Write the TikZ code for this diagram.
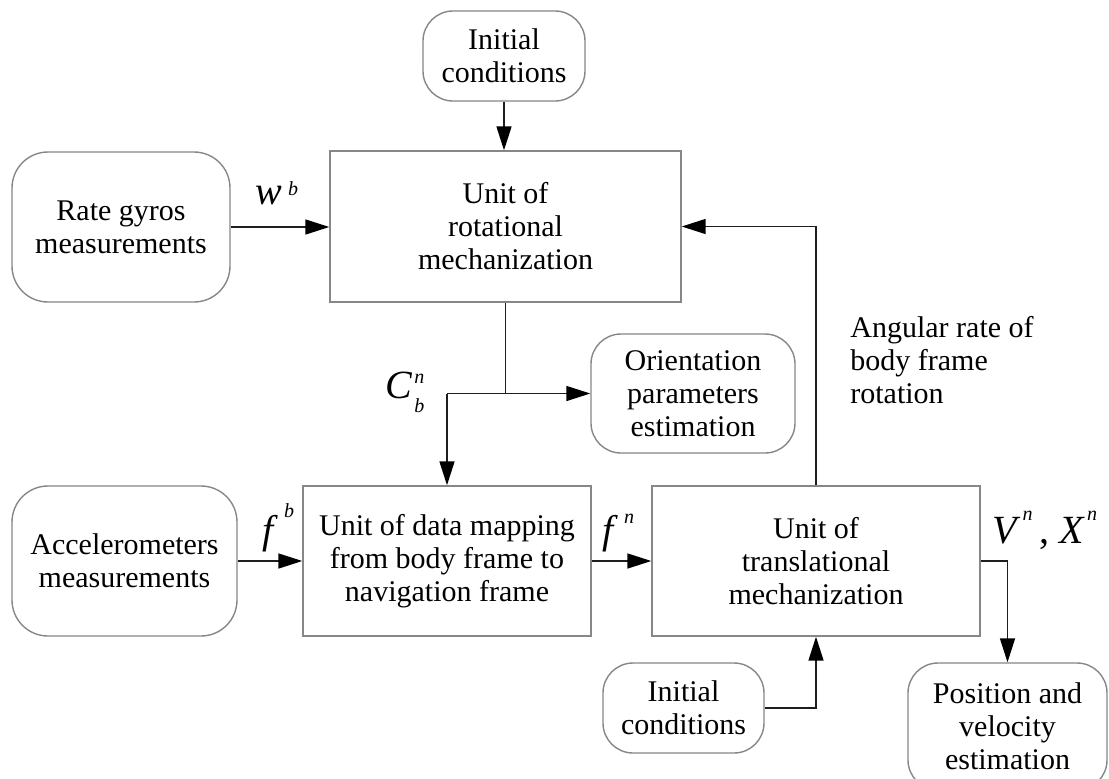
\documentclass[tikz,border=0pt]{standalone}
\usepackage{fontspec}
\setmainfont{Liberation Serif}
\usetikzlibrary{arrows.meta}
\definecolor{boxgray}{RGB}{135,135,135}
\definecolor{linegray}{RGB}{30,30,30}
\newcommand\supsc[2]{\raisebox{#1}{\fontsize{10}{10}\selectfont\textit{#2}}}
\begin{document}
\begin{tikzpicture}[x=0.5pt,y=-0.5pt,
  box/.style={draw=boxgray, line width=0.7pt, align=center, font=\fontsize{15}{16.5}\selectfont, inner sep=0pt},
  rbox/.style={box, rounded corners=15pt},
  conn/.style={draw=linegray, line width=0.75pt},
  arr/.style={conn, -{Triangle[length=12pt,width=7.5pt,color=black]}},
  lab/.style={font=\fontsize{20}{20}\selectfont, inner sep=0pt, anchor=base west},
  note/.style={font=\fontsize{15}{16.5}\selectfont, align=left, inner sep=0pt}
]
\useasboundingbox[fill=white] (0,0) rectangle (1109,778);

\node[rbox, minimum width=81pt, minimum height=45pt] (init1) at (504,56) {Initial\\conditions};
\node[rbox, rounded corners=18pt, minimum width=109pt, minimum height=75pt] (gyro) at (121,227) {Rate gyros\\measurements};
\node[box, minimum width=175.5pt, minimum height=75.5pt] (rot) at (505.5,226.5) {Unit of\\rotational\\mechanization};
\node[rbox, minimum width=102pt, minimum height=59.5pt] (orient) at (693,393.5) {Orientation\\parameters\\estimation};
\node[rbox, rounded corners=18pt, minimum width=112.5pt, minimum height=75pt] (accel) at (124.5,561) {Accelerometers\\measurements};
\node[box, minimum width=144pt, minimum height=75pt] (map) at (447,561) {Unit of data mapping\\from body frame to\\navigation frame};
\node[box, minimum width=164pt, minimum height=75pt] (trans) at (816,561) {Unit of\\translational\\mechanization};
\node[rbox, minimum width=80.5pt, minimum height=45pt] (init2) at (683.5,708) {Initial\\conditions};
\node[rbox, minimum width=99.5pt, minimum height=63.5pt] (pos) at (1007.5,726.5) {Position and\\velocity\\estimation};

\draw[arr] (init1.south) -- (init1.south |- rot.north);
\draw[arr] (gyro.east) -- (gyro.east -| rot.west);
\coordinate (jr) at (rot.south |- orient.west);
\coordinate (jl) at (map.north |- orient.west);
\draw[conn] (rot.south) -- (jr);
\draw[arr] (jl) -- (orient.west);
\draw[arr] (jl) -- (map.north);
\draw[arr] (accel.east) -- (map.west);
\draw[arr] (map.east) -- (trans.west);
\draw[arr] (trans.north) |- (rot.east);
\draw[arr] (init2.east) -| (trans.south);
\draw[arr] (trans.east) -| (pos.north);

\node[lab] (lw) at (255,204) {\textit{w}\hspace{3pt}\supsc{4.5pt}{b}};
\node[lab] (lfb) at (262,543) {\textit{f}\hspace{3pt}\supsc{13pt}{b}};
\node[lab] (lfn) at (602,543) {\textit{f}\hspace{3pt}\supsc{10pt}{n}};
\node[lab] (lc) at (385,398) {\textit{C}\hspace{1pt}\rlap{\supsc{7.5pt}{n}}\supsc{-7pt}{b}};
\node[lab] (lvx) at (992,543) {\textit{V}\hspace{1pt}\supsc{11.5pt}{n}\,, \textit{X}\hspace{1pt}\supsc{11.5pt}{n}};
\node[note, anchor=north west] (ang) at (850,316) {Angular rate of\\body frame\\rotation};
\end{tikzpicture}
\end{document}
